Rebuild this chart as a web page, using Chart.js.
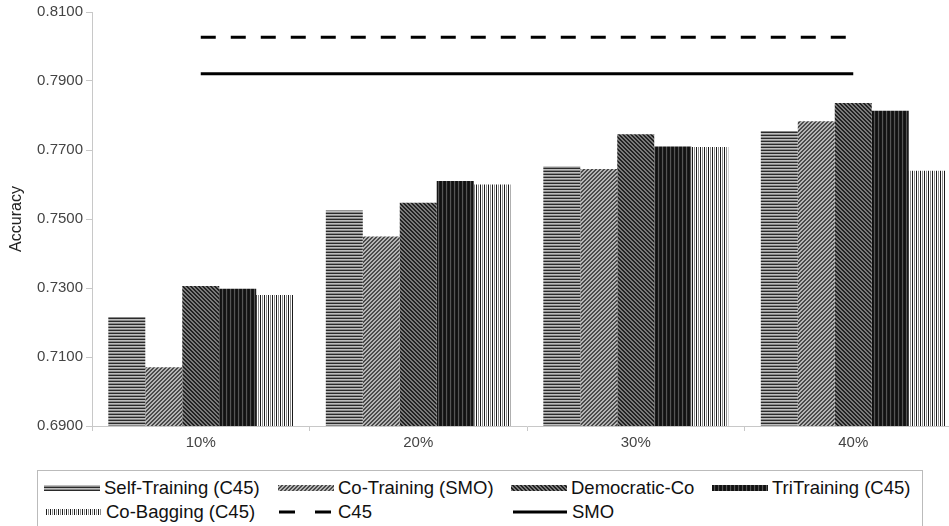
<!DOCTYPE html>
<html>
<head>
<meta charset="utf-8">
<script src="https://cdn.jsdelivr.net/npm/chart.js@4.4.1/dist/chart.umd.min.js"></script>
<style>
  html, body { margin: 0; padding: 0; background: #fff; overflow: hidden; }
  #wrap { position: relative; width: 949px; height: 526px; overflow: hidden; }
  #box { position: absolute; left: 0; top: 0; width: 962px; height: 462px; }
  #legend {
    position: absolute; left: 37px; top: 470px; width: 884px; height: 70px;
    border: 1px solid #bbb; font-family: "Liberation Sans", Arial, sans-serif;
    font-size: 18.5px; color: #111;
  }
  .item { position: absolute; display: flex; align-items: center; height: 22px; white-space: nowrap; }
  .item canvas { margin-right: 4px; }
</style>
</head>
<body>
<div id="wrap">
  <div id="box"><canvas id="accChart"></canvas></div>
  <div id="legend"></div>
</div>
<script>
// Accuracy by labelled ratio

const categories = ['10%', '20%', '30%', '40%'];

const selfTraining = [0.7216, 0.7525, 0.7653, 0.7755];
const coTraining   = [0.7070, 0.7449, 0.7645, 0.7783];
const democraticCo = [0.7306, 0.7547, 0.7746, 0.7836];
const triTraining  = [0.7298, 0.7610, 0.7710, 0.7814];
const coBagging    = [0.7280, 0.7600, 0.7709, 0.7640];
const c45Line      = [0.8027, 0.8027, 0.8027, 0.8027];
const smoLine      = [0.7921, 0.7921, 0.7921, 0.7921];

const yMin = 0.69, yMax = 0.81, yStep = 0.02;

// little tiles for the hatch fills
function makePattern(w, h, draw) {
    const c = document.createElement('canvas');
    c.width = w; c.height = h;
    const g = c.getContext('2d');
    draw(g, w, h);
    return g.createPattern(c, 'repeat');
}

function pix(g, x, y, col) { g.fillStyle = col; g.fillRect(x, y, 1, 1); }

const hPattern = makePattern(4, 3, function(g) {
    const rows = ['#2a2a2a', '#bdbdbd', '#8a8a8a'];
    rows.forEach(function(c, i) { g.fillStyle = c; g.fillRect(0, i, 4, 1); });
});
const slashPattern = makePattern(4, 4, function(g) {
    for (let x = 0; x < 4; x++) for (let y = 0; y < 4; y++)
        pix(g, x, y, ((x + y) % 4 < 2) ? '#4a4a4a' : '#b4b4b4');
});
const backPattern = makePattern(4, 4, function(g) {
    for (let x = 0; x < 4; x++) for (let y = 0; y < 4; y++)
        pix(g, x, y, ((x - y + 8) % 4 < 2) ? '#222' : '#7a7a7a');
});
const vDarkPattern = makePattern(4, 1, function(g) {
    ['#111', '#161616', '#555', '#1c1c1c'].forEach(function(c, i) { pix(g, i, 0, c); });
});
const vLightPattern = makePattern(4, 1, function(g) {
    ['#1a1a1a', '#fff', '#8a8a8a', '#fff'].forEach(function(c, i) { pix(g, i, 0, c); });
});

function barSet(label, data, fill) {
    return {
        type: 'bar', label: label, data: data, backgroundColor: fill,
        borderWidth: 0, order: 1,
        categoryPercentage: 0.85, barPercentage: 1.0
    };
}

const ctx = document.getElementById('accChart').getContext('2d');

new Chart(ctx, {
    data: {
        labels: categories,
        datasets: [
            barSet('Self-Training (C45)', selfTraining, hPattern),
            barSet('Co-Training (SMO)', coTraining, slashPattern),
            barSet('Democratic-Co', democraticCo, backPattern),
            barSet('TriTraining (C45)', triTraining, vDarkPattern),
            barSet('Co-Bagging (C45)', coBagging, vLightPattern),
            {
                type: 'line', label: 'C45', data: c45Line, borderColor: '#000',
                borderWidth: 3, borderDash: [15, 15], pointRadius: 0, order: 0,
                borderCapStyle: 'butt'
            },
            {
                type: 'line', label: 'SMO', data: smoLine, borderColor: '#000',
                borderWidth: 3, pointRadius: 0, order: 0
            }
        ]
    },
    options: {
        responsive: true,
        maintainAspectRatio: false,
        animation: false,
        layout: { padding: { top: 11, right: 0, bottom: 0, left: 0 } },
        plugins: {
            legend: { display: false },
            tooltip: { enabled: false }
        },
        scales: {
            x: {
                offset: true,
                grid: { offset: true, drawOnChartArea: false, color: '#c8c8c8', tickLength: 5 },
                border: { color: '#c8c8c8', width: 1 },
                ticks: { color: '#444', font: { family: 'Liberation Sans', size: 15 }, padding: 3 },
                afterFit: function(scale) { scale.height = 36; }
            },
            y: {
                min: yMin, max: yMax,
                grid: { drawOnChartArea: false, color: '#c8c8c8', tickLength: 6 },
                border: { color: '#c8c8c8', width: 1 },
                ticks: {
                    stepSize: yStep, color: '#444', padding: 3,
                    font: { family: 'Liberation Sans', size: 15 },
                    callback: function(v) { return v.toFixed(4); }
                },
                title: {
                    display: true, text: 'Accuracy', color: '#222',
                    font: { family: 'Liberation Sans', size: 16 },
                    padding: { top: 7, bottom: 0 }
                },
                afterFit: function(scale) { scale.width = 92; }
            }
        }
    }
});

// legend laid out as the grid of the original
const legendItems = [
    { text: 'Self-Training (C45)', fill: hPattern, x: 6, row: 0 },
    { text: 'Co-Training (SMO)', fill: slashPattern, x: 240, row: 0 },
    { text: 'Democratic-Co', fill: backPattern, x: 473, row: 0 },
    { text: 'TriTraining (C45)', fill: vDarkPattern, x: 674, row: 0 },
    { text: 'Co-Bagging (C45)', fill: vLightPattern, x: 8, row: 1 },
    { text: 'C45', dash: [16, 20], x: 240, row: 1 },
    { text: 'SMO', dash: [], x: 474, row: 1 }
];

const legendEl = document.getElementById('legend');
legendItems.forEach(function(it) {
    const d = document.createElement('div');
    d.className = 'item';
    d.style.left = it.x + 'px';
    d.style.top = (it.row === 0 ? 6 : 30) + 'px';
    const sw = document.createElement('canvas');
    sw.width = 56; sw.height = 8;
    const g = sw.getContext('2d');
    if (it.fill) {
        g.fillStyle = it.fill;
        g.fillRect(0, 1, 56, 6);
    } else {
        g.strokeStyle = '#000'; g.lineWidth = 3;
        g.setLineDash(it.dash);
        g.beginPath(); g.moveTo(1, 4); g.lineTo(55, 4); g.stroke();
    }
    d.appendChild(sw);
    const t = document.createElement('span');
    t.textContent = it.text;
    d.appendChild(t);
    legendEl.appendChild(d);
});
</script>
</body>
</html>
